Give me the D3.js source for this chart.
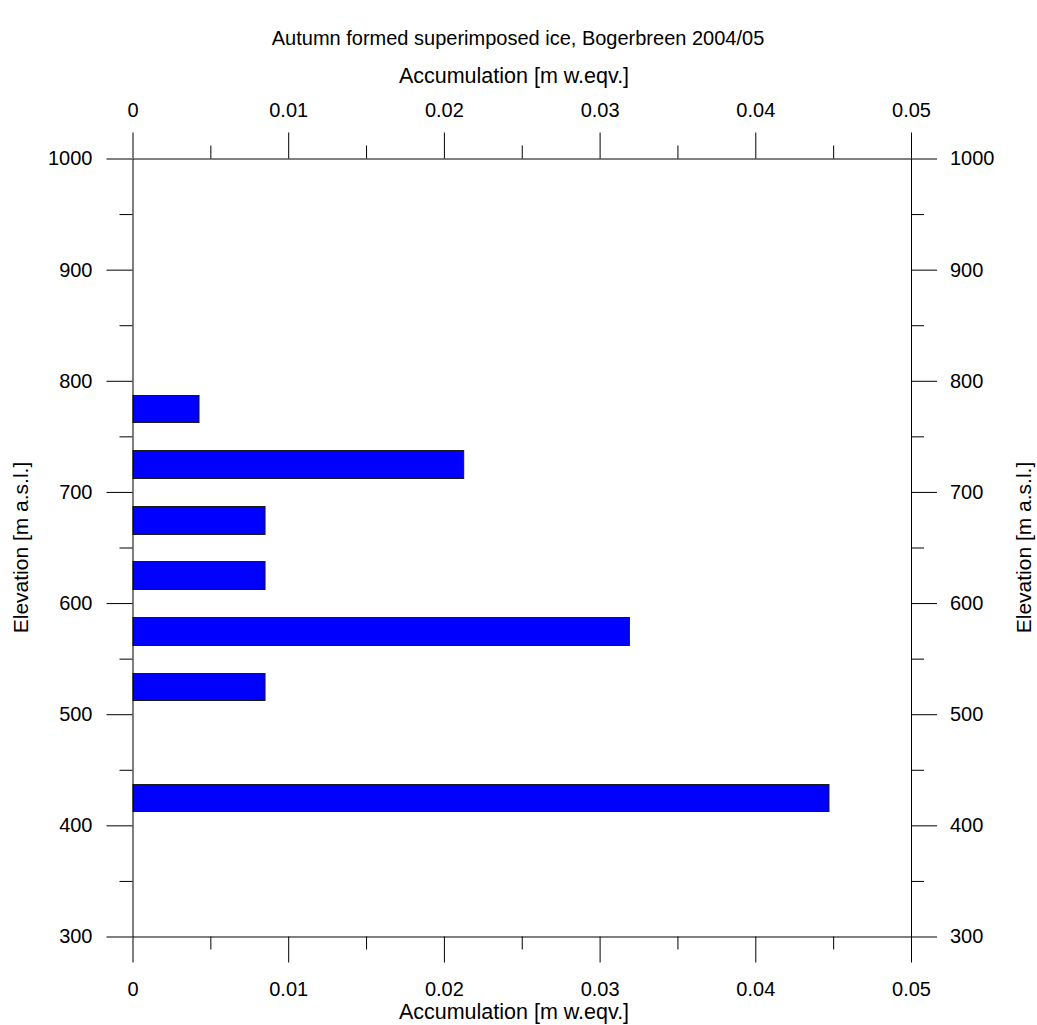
<!DOCTYPE html>
<html>
<head>
<meta charset="utf-8">
<script src="https://cdn.jsdelivr.net/npm/d3@7"></script>
<style>
  html, body { margin: 0; padding: 0; background: #fff; }
  svg { display: block; }
  text { font-family: "Liberation Sans", Arial, sans-serif; fill: #000; }
</style>
</head>
<body>
<svg id="chart" width="1037" height="1025"></svg>
<script>
// ---- data ----
const titleText = "Autumn formed superimposed ice, Bogerbreen 2004/05";
const xTitle = "Accumulation [m w.eqv.]";
const yTitle = "Elevation [m a.s.l.]";
const elevations = [425, 525, 575, 625, 675, 725, 775];          // bin centres, m a.s.l.
const accumulation = [0.0447, 0.00848, 0.03188, 0.00848, 0.00848, 0.02124, 0.00424];
const xMajorTicks = [0, 0.01, 0.02, 0.03, 0.04, 0.05];
const xTickLabels = ["0", "0.01", "0.02", "0.03", "0.04", "0.05"];
const xMinorTicks = [0.005, 0.015, 0.025, 0.035, 0.045];
const yMajorTicks = [300, 400, 500, 600, 700, 800, 900, 1000];
const yMinorTicks = [350, 450, 550, 650, 750, 850, 950];
const binWidth = 25;

// ---- layout ----
const svg = d3.select("#chart");
const L = 132.5, R = 911, T = 158.5, B = 936.5;
const x = d3.scaleLinear().domain([0, 0.05]).range([L, R]);
const y = d3.scaleLinear().domain([300, 1000]).range([B, T]);
const MAJ = 26, MIN = 13, FS = 20;

// bars
svg.append("g").selectAll("rect")
  .data(elevations.map((e, i) => ({ e, v: accumulation[i] })))
  .join("rect")
  .attr("x", x(0) + 0.5)
  .attr("y", d => Math.round(y(d.e + binWidth / 2)) + 0.5)
  .attr("width", d => x(d.v) - x(0))
  .attr("height", d => Math.round(y(d.e - binWidth / 2)) - Math.round(y(d.e + binWidth / 2)))
  .attr("fill", "#0000ff")
  .attr("stroke", "#1a1a1a")
  .attr("stroke-width", 1);

function styleAxis(g) {
  g.selectAll("path.domain").attr("stroke", "#000");
  g.selectAll(".tick line").attr("stroke", "#000");
  g.selectAll(".tick text").attr("font-size", FS).attr("font-family", "Liberation Sans, Arial, sans-serif").attr("fill", "#000");
}
const fmtX = d => xTickLabels[xMajorTicks.indexOf(d)];

// bottom
svg.append("g").attr("transform", `translate(0,${B})`)
  .call(d3.axisBottom(x).tickValues(xMajorTicks).tickFormat(fmtX).tickSize(MAJ).tickSizeOuter(0).tickPadding(19))
  .call(styleAxis);
svg.append("g").attr("transform", `translate(0,${B})`)
  .call(d3.axisBottom(x).tickValues(xMinorTicks).tickFormat("").tickSize(MIN).tickSizeOuter(0))
  .call(g => g.select(".domain").remove()).call(styleAxis);
// top
svg.append("g").attr("transform", `translate(0,${T})`)
  .call(d3.axisTop(x).tickValues(xMajorTicks).tickFormat(fmtX).tickSize(MAJ).tickSizeOuter(0).tickPadding(16))
  .call(styleAxis);
svg.append("g").attr("transform", `translate(0,${T})`)
  .call(d3.axisTop(x).tickValues(xMinorTicks).tickFormat("").tickSize(MIN).tickSizeOuter(0))
  .call(g => g.select(".domain").remove()).call(styleAxis);
// left
svg.append("g").attr("transform", `translate(${L},0)`)
  .call(d3.axisLeft(y).tickValues(yMajorTicks).tickFormat(d3.format("d")).tickSize(MAJ).tickSizeOuter(0).tickPadding(14))
  .call(styleAxis);
svg.append("g").attr("transform", `translate(${L},0)`)
  .call(d3.axisLeft(y).tickValues(yMinorTicks).tickFormat("").tickSize(MIN).tickSizeOuter(0))
  .call(g => g.select(".domain").remove()).call(styleAxis);
// right
svg.append("g").attr("transform", `translate(${R},0)`)
  .call(d3.axisRight(y).tickValues(yMajorTicks).tickFormat(d3.format("d")).tickSize(MAJ).tickSizeOuter(0).tickPadding(13))
  .call(styleAxis);
svg.append("g").attr("transform", `translate(${R},0)`)
  .call(d3.axisRight(y).tickValues(yMinorTicks).tickFormat("").tickSize(MIN).tickSizeOuter(0))
  .call(g => g.select(".domain").remove()).call(styleAxis);

// titles
svg.append("text").attr("x", 518).attr("y", 45).attr("text-anchor", "middle")
  .attr("font-size", 20).text(titleText);
svg.append("text").attr("x", 514).attr("y", 83).attr("text-anchor", "middle")
  .attr("font-size", 21.5).text(xTitle);
svg.append("text").attr("x", 514).attr("y", 1019).attr("text-anchor", "middle")
  .attr("font-size", 21.5).text(xTitle);
svg.append("text").attr("transform", `translate(28,${(T + B) / 2}) rotate(-90)`)
  .attr("text-anchor", "middle").attr("font-size", 21).text(yTitle);
svg.append("text").attr("transform", `translate(1031,${(T + B) / 2}) rotate(-90)`)
  .attr("text-anchor", "middle").attr("font-size", 21).text(yTitle);
</script>
</body>
</html>
